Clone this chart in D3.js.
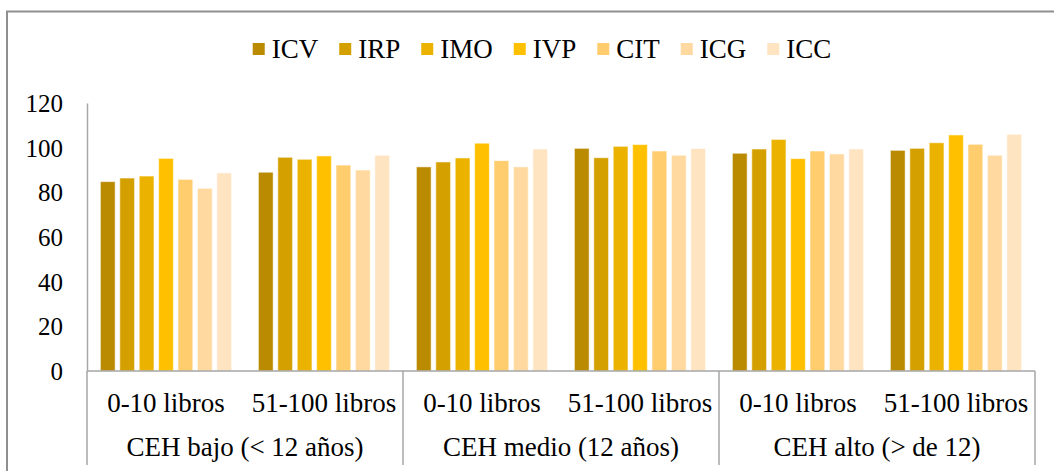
<!DOCTYPE html>
<html>
<head>
<meta charset="utf-8">
<script src="https://cdn.jsdelivr.net/npm/d3@7"></script>
<style>
  body { margin: 0; background: #fff; }
  svg text { font-family: 'Liberation Serif', serif; }
</style>
</head>
<body>
<div class="svg"></div>
<script>
// data
var groups = ["CEH bajo (< 12 años)", "CEH medio (12 años)", "CEH alto (> de 12)"];
var subgroups = ["0-10 libros", "51-100 libros"];
var series = ["ICV", "IRP", "IMO", "IVP", "CIT", "ICG", "ICC"];
var colors = ["#BA8A00", "#D4A000", "#EBB300", "#FFC000", "#FFCC6E", "#FFD99F", "#FFE4C2"];
var yTicks = [0, 20, 40, 60, 80, 100, 120];

// one row per group/subgroup, in series order
var values = [
  [84.8, 86.4, 87.3, 95.2, 85.8, 81.8, 88.7],
  [89.0, 95.7, 94.8, 96.3, 92.2, 90.0, 96.6],
  [91.4, 93.6, 95.4, 102.0, 94.2, 91.4, 99.4],
  [99.7, 95.5, 100.6, 101.4, 98.5, 96.6, 99.6],
  [97.5, 99.4, 103.7, 95.1, 98.5, 97.2, 99.4],
  [98.8, 99.7, 102.2, 105.7, 101.5, 96.6, 106.0]
];

var W = 1054, H = 471;
var margin = {top: 103, left: 87},
  plotRight = 1035,
  plotBottom = 371;

var cats = [];
groups.forEach(function(g, gi) {
  subgroups.forEach(function(s, si) {
    cats.push({id: gi + "|" + si, group: g, sub: s, vals: values[gi * 2 + si]});
  });
});

var svg = d3.select(".svg").append("svg")
  .attr("width", W)
  .attr("height", H);

// outer chart frame (runs past the right/bottom edge)
svg.append("rect")
  .attr("x", 7).attr("y", 11.5)
  .attr("width", 1200).attr("height", 600)
  .attr("fill", "none")
  .attr("stroke", "#8f8f8f")
  .attr("stroke-width", 2);

// scales
var x0 = d3.scaleBand().domain(cats.map(c => c.id)).range([margin.left, plotRight]).padding(0);
var x1 = d3.scaleBand().domain(series).range([0, x0.bandwidth()]).paddingInner(0.24).paddingOuter(0.69);
var y = d3.scaleLinear().domain([0, 120]).range([plotBottom, margin.top]);

// bars
svg.append("g").selectAll("g.cat")
  .data(cats).enter().append("g")
    .attr("class", "cat")
    .attr("transform", d => "translate(" + x0(d.id) + ",0)")
  .selectAll("rect")
  .data(d => d.vals.map((v, i) => ({key: series[i], value: v, color: colors[i]})))
  .enter().append("rect")
    .attr("x", d => x1(d.key))
    .attr("y", d => y(d.value))
    .attr("width", x1.bandwidth())
    .attr("height", d => y(0) - y(d.value))
    .attr("fill", d => d.color)
    .attr("stroke", "#fff")
    .attr("stroke-opacity", 0.55)
    .attr("stroke-width", 1);

// y axis
var axisColor = "#a6a6a6";
var yAxis = svg.append("g")
  .attr("transform", "translate(" + margin.left + ",0)")
  .call(d3.axisLeft(y).tickValues(yTicks).tickSize(0).tickPadding(24));
yAxis.attr("font-family", null).attr("font-size", null);
yAxis.select(".domain").attr("stroke", axisColor).attr("stroke-width", 1.5);
yAxis.selectAll("text").attr("fill", "#000").attr("dy", "0.34em").style("font-size", "25px");

// x axis line
svg.append("line")
  .attr("x1", margin.left).attr("x2", plotRight)
  .attr("y1", plotBottom).attr("y2", plotBottom)
  .attr("stroke", axisColor).attr("stroke-width", 1.5);

// group separators down to the bottom
var sepX = [margin.left].concat(groups.map((gname, gi) => x0(gi + "|1") + x0.bandwidth()));
svg.selectAll("line.sep")
  .data(sepX).enter().append("line")
    .attr("class", "sep")
    .attr("x1", d => d).attr("x2", d => d)
    .attr("y1", plotBottom).attr("y2", 465)
    .attr("stroke", axisColor).attr("stroke-width", 1.5);

// subgroup labels
svg.selectAll("text.sub")
  .data(cats).enter().append("text")
    .attr("class", "sub")
    .attr("x", d => x0(d.id) + x0.bandwidth() / 2)
    .attr("y", 403)
    .attr("dy", "0.34em")
    .attr("text-anchor", "middle")
    .style("font-size", "27px")
    .text(d => d.sub);

// group labels
svg.selectAll("text.grp")
  .data(groups).enter().append("text")
    .attr("class", "grp")
    .attr("x", (d, gi) => x0(gi + "|0") + x0.bandwidth())
    .attr("y", 447)
    .attr("dy", "0.34em")
    .attr("text-anchor", "middle")
    .style("font-size", "27px")
    .text(d => d);

// legend
var legend = svg.append("g").attr("transform", "translate(0,49)");
var items = legend.selectAll("g")
  .data(series).enter().append("g");
items.append("rect")
  .attr("y", -6).attr("width", 12).attr("height", 12)
  .attr("fill", (d, i) => colors[i]);
items.append("text")
  .attr("x", 19)
  .attr("dy", "0.34em")
  .style("font-size", "27px")
  .text(d => d);
var pos = 0, legendX = [];
items.each(function() {
  legendX.push(pos);
  pos += 19 + this.querySelector("text").getComputedTextLength() + 21;
});
var total = pos - 21, start = 542 - total / 2;
items.attr("transform", (d, i) => "translate(" + (start + legendX[i]) + ",0)");
</script>
</body>
</html>
